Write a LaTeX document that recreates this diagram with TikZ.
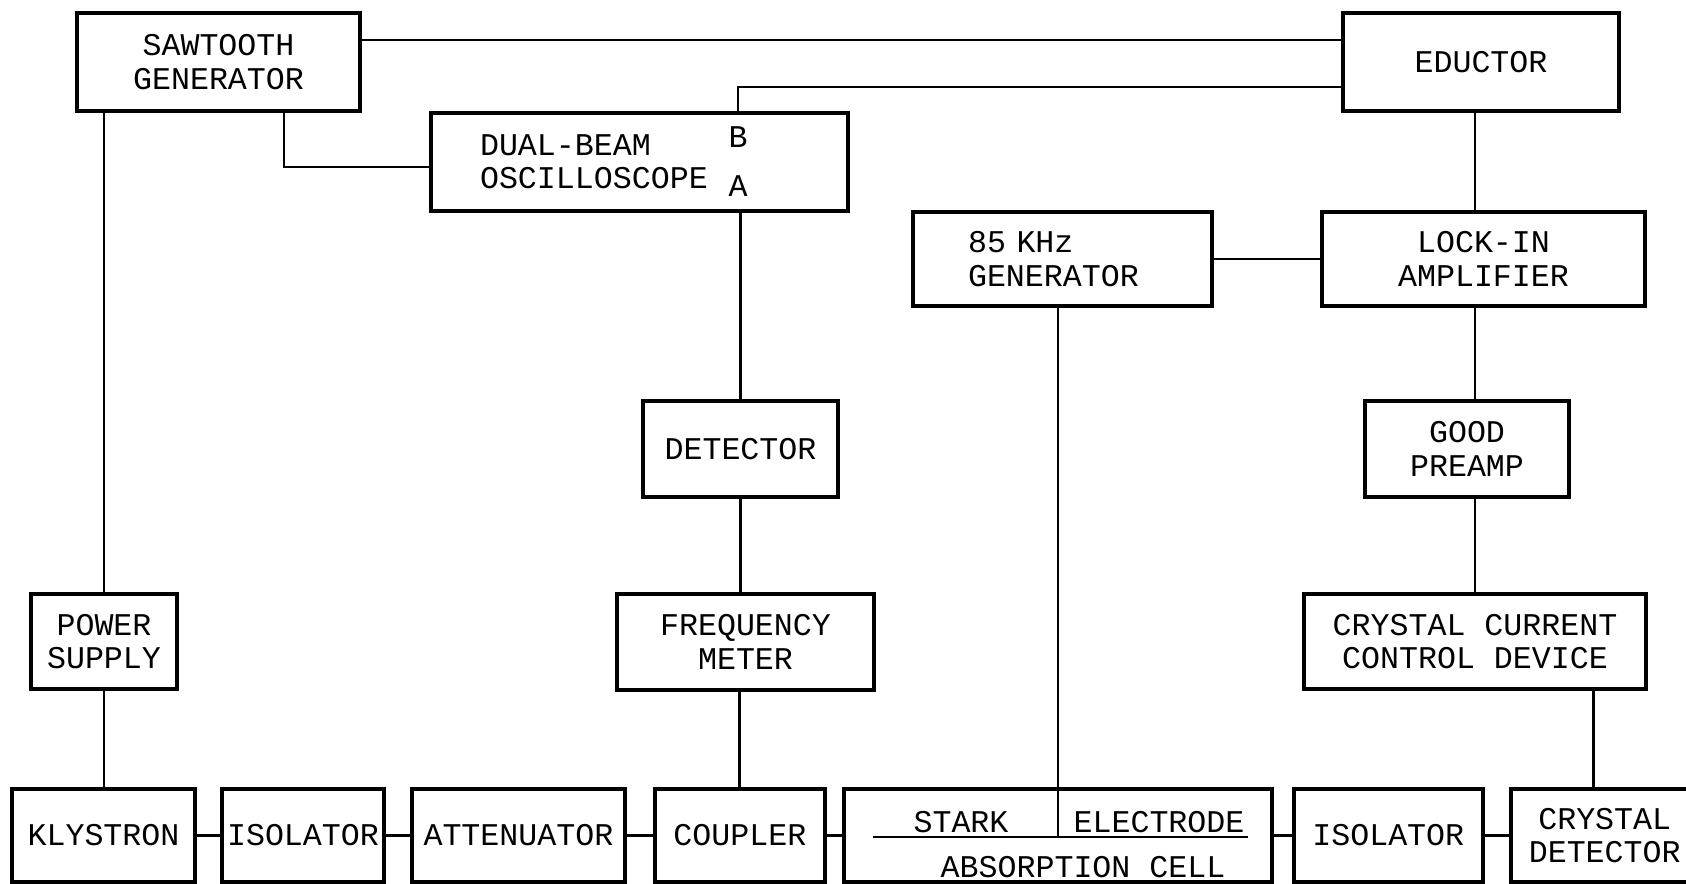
\documentclass[tikz,border=0pt]{standalone}
\usepackage{fontspec}
\setmonofont{Liberation Mono}
\usetikzlibrary{positioning}

\begin{document}
\begin{tikzpicture}[
        x=0.02cm, y=-0.02cm,
        block/.style={draw, line width=2pt, outer sep=0pt, rectangle, minimum height=1.9cm, inner sep=2pt, align=center, font=\ttfamily\fontsize{18}{19}\selectfont},
        tag/.style={inner sep=0pt, font=\ttfamily\fontsize{18}{19}\selectfont},
        wire/.style={line width=1.6pt}
    ]
        \path[use as bounding box, fill=white] (0,0) rectangle (1686,884);

        % 1. Upper row (sawtooth, oscilloscope, eductor)
        \node[block, minimum width=5.66cm, minimum height=1.96cm] (saw) at (218.5,62) {SAWTOOTH\\GENERATOR};
        \node[block, minimum width=5.52cm, minimum height=1.96cm] (educ) at (1481,62) {EDUCTOR};
        \node[block, minimum width=8.34cm, minimum height=1.96cm, inner xsep=0.98cm, text width=6.38cm, align=left] (osc) at (639.5,162) {DUAL-BEAM\\OSCILLOSCOPE};
        \node[tag] (chB) at (738,137) {B};
        \node[tag] (chA) at (738,186) {A};

        % 2. Modulation and detection chain
        \node[block, minimum width=5.98cm, minimum height=1.88cm, inner xsep=1.1cm, text width=3.78cm, align=left] (gen) at (1062.5,259) {85 KHz\\GENERATOR};
        \node[block, minimum width=6.46cm, minimum height=1.88cm] (lock) at (1483.5,259) {LOCK-IN\\AMPLIFIER};
        \node[block, minimum width=4.08cm, minimum height=1.92cm] (pre) at (1467,449) {GOOD\\PREAMP};
        \node[block, minimum width=6.84cm] (ccd) at (1475,641.5) {CRYSTAL CURRENT\\CONTROL DEVICE};

        % 3. Frequency monitoring
        \node[block, minimum width=3.9cm, minimum height=1.92cm] (det) at (740.5,449) {DETECTOR};
        \node[block, minimum width=5.14cm, minimum height=1.92cm] (freq) at (745.5,642) {FREQUENCY\\METER};
        \node[block, minimum width=2.92cm] (pwr) at (104,641.5) {POWER\\SUPPLY};

        % 4. Microwave line
        \node[block, minimum width=3.66cm, minimum height=1.86cm] (kly) at (103.5,835.5) {KLYSTRON};
        \node[block, minimum width=3.24cm, minimum height=1.86cm, right=0.54cm of kly] (iso) {ISOLATOR};
        \node[block, minimum width=4.26cm, minimum height=1.86cm, right=0.56cm of iso] (att) {ATTENUATOR};
        \node[block, minimum width=3.4cm, minimum height=1.86cm, right=0.6cm of att] (cpl) {COUPLER};
        \node[block, minimum width=8.56cm, minimum height=1.86cm, right=0.38cm of cpl] (cell) {};
        \node[block, minimum width=3.78cm, minimum height=1.86cm, right=0.44cm of cell] (isob) {ISOLATOR};
        \node[block, minimum width=3.76cm, minimum height=1.86cm, right=0.56cm of isob] (xdet) {CRYSTAL\\DETECTOR};

        % Stark electrode inside the cell
        \coordinate (elL) at (873,837);
        \coordinate (elR) at (1248,837);
        \draw[wire] (elL) -- (elR);
        \node[tag, anchor=base] (stark) at (961,832) {STARK};
        \node[tag, anchor=base] (elec) at (1159,832) {ELECTRODE};
        \node[tag, anchor=base] (abs) at (1083,877) {ABSORPTION CELL};

        % Connections
        \draw[wire] ([yshift=0.44cm]saw.east) -- ([yshift=0.44cm]educ.west);
        \draw[wire] ([yshift=-0.5cm]educ.west) -| (osc.north -| chB);
        \draw[wire] ([xshift=1.31cm]saw.south) |- ([yshift=-0.1cm]osc.west);
        \draw[wire] (pwr.north |- saw.south) -- (pwr.north);
        \draw[wire] (pwr.south) -- (pwr.south |- kly.north);

        \draw[wire] (det.north |- osc.south) -- (det.north);
        \draw[wire] (det.south) -- (det.south |- freq.north);
        \draw[wire] (cpl.north |- freq.south) -- (cpl.north);

        \draw[wire] (ccd |- educ.south) -- (ccd |- lock.north);
        \draw[wire] (gen) -- (lock);
        \draw[wire] (ccd |- lock.south) -- (ccd |- pre.north);
        \draw[wire] (ccd |- pre.south) -- (ccd.north);
        \draw[wire] ([xshift=-0.22cm]xdet.north |- ccd.south) -- ([xshift=-0.22cm]xdet.north);
        \draw[wire] ([xshift=-0.09cm]gen.south) -- ([xshift=-0.09cm]gen.south |- elL);

        \draw[wire] (kly) -- (iso);
        \draw[wire] (iso) -- (att);
        \draw[wire] (att) -- (cpl);
        \draw[wire] (cpl) -- (cell);
        \draw[wire] (cell) -- (isob);
        \draw[wire] (isob) -- (xdet);
\end{tikzpicture}
\end{document}
